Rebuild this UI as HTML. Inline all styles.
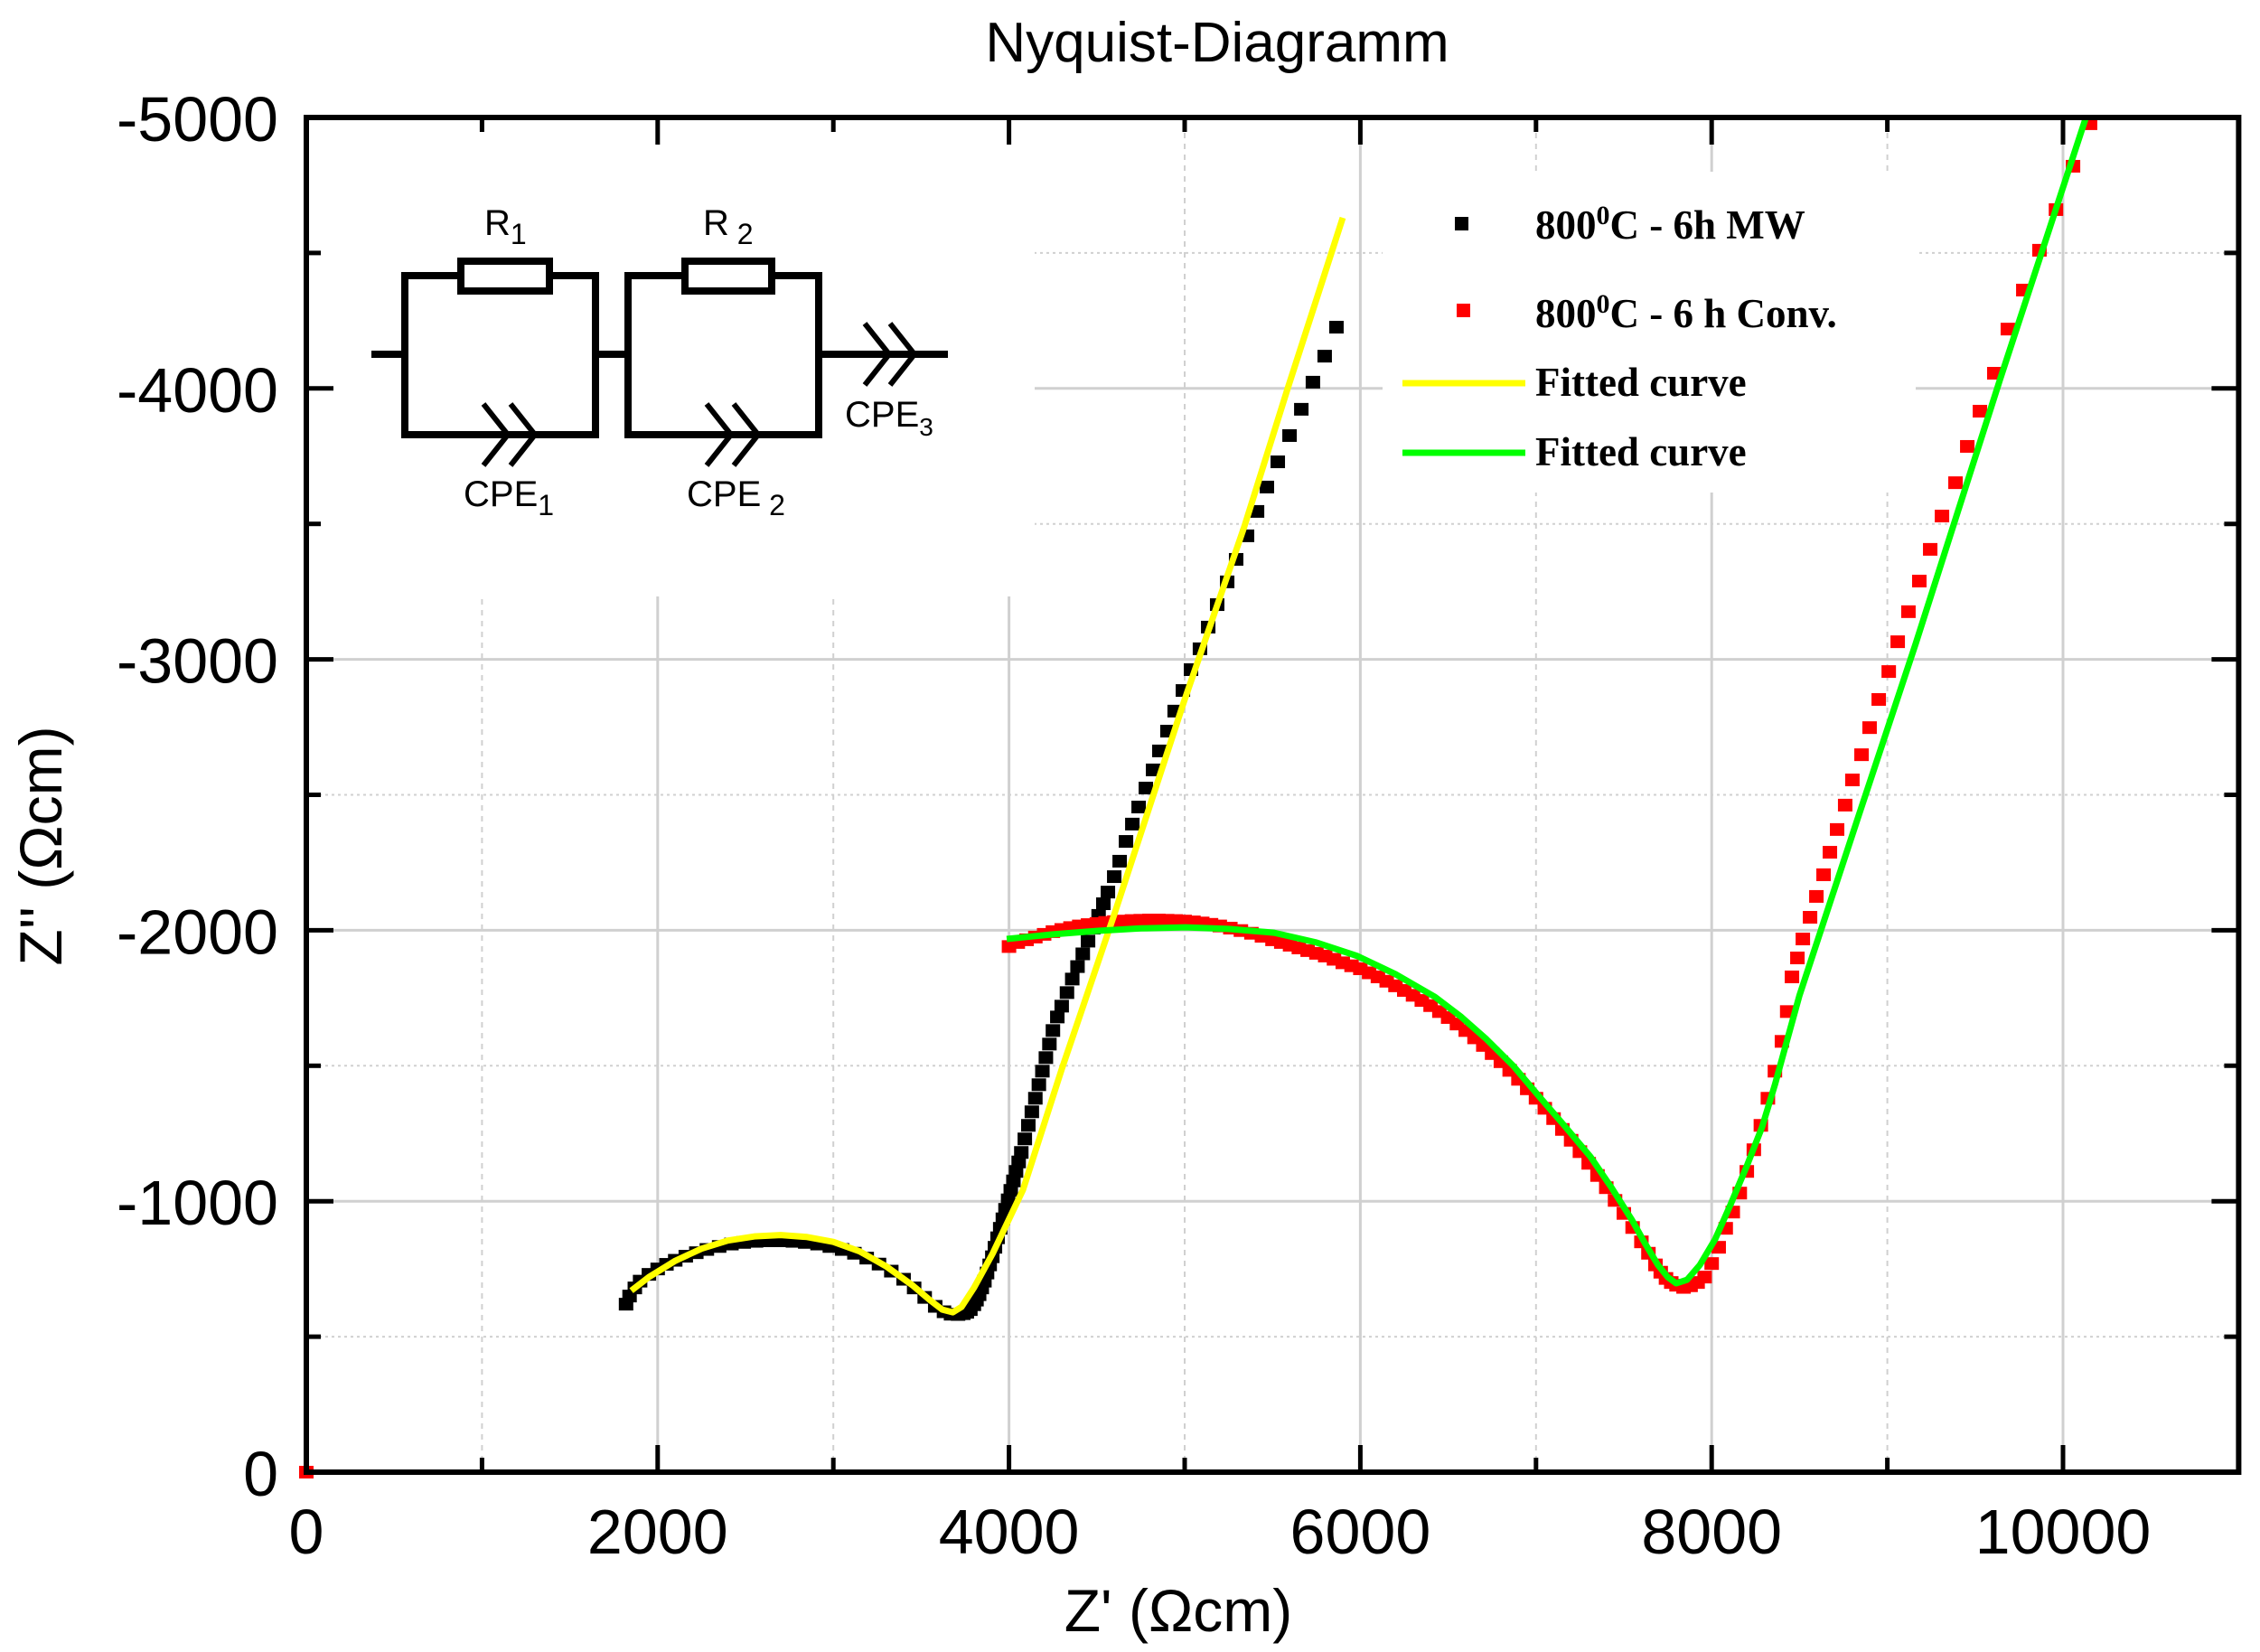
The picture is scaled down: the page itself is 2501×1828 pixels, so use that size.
<!DOCTYPE html>
<html><head><meta charset="utf-8"><style>
html,body{margin:0;padding:0;background:#fff;}
svg{display:block;}
text{font-family:"Liberation Sans",Arial,sans-serif;}
.lg{font-family:"Liberation Serif",serif;font-weight:bold;font-size:45px;}
</style></head><body>
<svg id="chart" width="2501" height="1828" viewBox="0 0 2501 1828" xmlns="http://www.w3.org/2000/svg">
<g id="grid"></g>
<rect x="350" y="140" width="795" height="520" fill="#fff"/>
<rect x="1530" y="190" width="590" height="355" fill="#fff"/>
<g id="series"></g>
<g id="axes"></g>
<text x="1347" y="68" font-size="62" text-anchor="middle">Nyquist-Diagramm</text>
<text x="1304" y="1805" font-size="66" text-anchor="middle">Z' (Ωcm)</text>
<text transform="translate(68,936) rotate(-90)" font-size="66" text-anchor="middle">Z'' (Ωcm)</text>
<g stroke="#000" stroke-width="8" fill="none">
<line x1="411" y1="392" x2="448" y2="392"/>
<polyline points="510,305 448,305 448,481 659,481 659,305 608,305"/>
<rect x="510" y="289" width="98" height="33" fill="#fff"/>
<line x1="659" y1="392" x2="695" y2="392"/>
<polyline points="758,305 695,305 695,481 906,481 906,305 854,305"/>
<rect x="758" y="289" width="96" height="33" fill="#fff"/>
<line x1="906" y1="392" x2="1049" y2="392"/>
<polyline points="535,447 562,481 535,515" stroke-width="6"/>
<polyline points="565,447 592,481 565,515" stroke-width="6"/>
<polyline points="782,447 809,481 782,515" stroke-width="6"/>
<polyline points="812,447 839,481 812,515" stroke-width="6"/>
<polyline points="957,358 984,392 957,426" stroke-width="6"/>
<polyline points="985,358 1012,392 985,426" stroke-width="6"/>
</g>
<g font-size="40">
<text x="536" y="260">R<tspan font-size="32" dy="10">1</tspan></text>
<text x="778" y="260">R<tspan font-size="32" dy="10"> 2</tspan></text>
<text x="513" y="560">CPE<tspan font-size="32" dy="10">1</tspan></text>
<text x="760" y="560">CPE<tspan font-size="32" dy="10"> 2</tspan></text>
<text x="935" y="472">CPE<tspan font-size="28" dy="10">3</tspan></text>
</g>
<g>
<rect x="1610" y="240" width="15" height="15" fill="#000"/>
<text class="lg" x="1699" y="264">800<tspan font-size="30" dy="-16">0</tspan><tspan dy="16">C - 6h MW</tspan></text>
<rect x="1612" y="336" width="15" height="15" fill="#f00"/>
<text class="lg" x="1699" y="362">800<tspan font-size="30" dy="-16">0</tspan><tspan dy="16">C - 6 h Conv.</tspan></text>
<line x1="1552" y1="424" x2="1688" y2="424" stroke="#ff0" stroke-width="7"/>
<text class="lg" x="1699" y="438">Fitted curve</text>
<line x1="1552" y1="501" x2="1688" y2="501" stroke="#0f0" stroke-width="7"/>
<text class="lg" x="1699" y="515">Fitted curve</text>
</g>
</svg>
<script>
const xTicks=[0,2000,4000,6000,8000,10000];
const yTicks=[0,-1000,-2000,-3000,-4000,-5000];
const mwX=[1820,1840,1870,1900,1950,2000,2050,2100,2160,2220,2280,2350,2420,2490,2560,2630,2700,2770,2840,2910,2980,3050,3120,3190,3260,3330,3400,3460,3520,3580,3630,3670,3710,3740,3760,3780,3800,3815,3830,3845,3860,3875,3890,3905,3920,3935,3950,3965,3980,3995,4010,4025,4040,4055,4070,4090,4110,4130,4150,4170,4190,4210,4230,4250,4275,4300,4330,4360,4390,4420,4450,4480,4510,4537,4563,4599,4630,4666,4702,4738,4779,4820,4856,4902,4943,4990,5036,5087,5134,5185,5242,5293,5355,5412,5468,5530,5597,5664,5730,5797,5864];
const mwY=[-620,-650,-680,-705,-730,-750,-767,-782,-797,-810,-822,-833,-842,-848,-852,-854,-854,-852,-848,-842,-833,-822,-808,-790,-768,-742,-712,-680,-645,-612,-592,-583,-582,-585,-590,-600,-618,-635,-655,-680,-705,-735,-765,-795,-830,-865,-900,-935,-970,-1005,-1040,-1075,-1110,-1145,-1180,-1230,-1280,-1330,-1380,-1430,-1480,-1530,-1580,-1630,-1680,-1720,-1770,-1820,-1866,-1913,-1960,-2008,-2055,-2098,-2141,-2198,-2255,-2328,-2392,-2455,-2525,-2592,-2662,-2735,-2809,-2885,-2962,-3039,-3119,-3202,-3286,-3369,-3456,-3546,-3636,-3729,-3826,-3923,-4023,-4119,-4226];
const convX=[0,4000,4050,4100,4150,4200,4250,4300,4350,4400,4450,4500,4550,4600,4650,4700,4750,4800,4850,4900,4950,5000,5050,5100,5150,5200,5260,5320,5380,5440,5500,5550,5600,5650,5700,5750,5800,5850,5900,5950,6000,6050,6100,6150,6200,6250,6300,6350,6400,6450,6500,6550,6600,6650,6700,6750,6800,6850,6900,6950,7000,7050,7100,7150,7200,7250,7300,7350,7400,7450,7500,7550,7600,7640,7680,7710,7740,7770,7800,7840,7880,7920,7960,8000,8040,8080,8120,8160,8200,8240,8280,8320,8360,8400,8430,8457,8488,8519,8560,8596,8637,8673,8714,8760,8801,8853,8899,8951,9008,9059,9120,9182,9244,9311,9388,9455,9527,9609,9686,9774,9866,9960,10057,10154];
const convY=[0,-1940,-1955,-1965,-1975,-1985,-1995,-2003,-2010,-2016,-2021,-2025,-2029,-2032,-2034,-2036,-2037,-2038,-2038,-2037,-2036,-2034,-2031,-2027,-2022,-2016,-2008,-1999,-1989,-1978,-1965,-1955,-1945,-1935,-1925,-1915,-1905,-1893,-1880,-1869,-1858,-1843,-1828,-1812,-1795,-1778,-1760,-1741,-1722,-1700,-1678,-1654,-1630,-1603,-1575,-1545,-1515,-1483,-1450,-1415,-1380,-1343,-1305,-1265,-1225,-1183,-1140,-1095,-1050,-1003,-955,-903,-850,-808,-765,-738,-715,-700,-690,-682,-688,-700,-720,-770,-830,-900,-960,-1030,-1110,-1190,-1280,-1380,-1480,-1590,-1700,-1828,-1898,-1968,-2048,-2125,-2205,-2288,-2372,-2462,-2555,-2648,-2748,-2852,-2955,-3065,-3176,-3289,-3406,-3529,-3652,-3786,-3916,-4056,-4219,-4363,-4510,-4660,-4820,-4977];
const fitMwX=[1850,1950,2100,2250,2400,2550,2700,2850,3000,3150,3300,3450,3550,3620,3680,3730,3800,3907,4079,4300,4600,4995,5339,5586,5900];
const fitMwY=[-670,-720,-780,-825,-855,-870,-875,-868,-850,-815,-760,-690,-635,-600,-590,-610,-680,-807,-1041,-1487,-2060,-2842,-3489,-3999,-4630];
const fitConvX=[3987,4250,4506,4750,5005,5250,5509,5750,5983,6200,6425,6575,6718,6870,7016,7160,7310,7430,7546,7620,7695,7750,7798,7860,7932,8020,8107,8200,8287,8360,8431,8500,8830,9162,9640,10129];
const fitConvY=[-1968,-1985,-1998,-2007,-2011,-2005,-1991,-1955,-1905,-1838,-1754,-1680,-1598,-1500,-1388,-1280,-1164,-1050,-931,-845,-764,-720,-697,-710,-764,-860,-987,-1130,-1274,-1430,-1598,-1760,-2410,-3059,-4030,-4997];
const X0=339, XS=(2283-339)/10000, Y0=1629, YS=(1629-130)/5000;
function sx(v){return X0+v*XS;}
function sy(v){return Y0+v*YS;}
const NS='http://www.w3.org/2000/svg';
function mk(tag,attrs,parent){const e=document.createElementNS(NS,tag);for(const k in attrs)e.setAttribute(k,attrs[k]);parent.appendChild(e);return e;}
const grid=document.getElementById('grid'), axes=document.getElementById('axes'), series=document.getElementById('series');
for(let v=1000;v<=11000;v+=1000){
  const major=v%2000===0;
  const g=mk('line',{x1:sx(v),x2:sx(v),y1:sy(0),y2:sy(-5000),stroke:'#d0d0d0','stroke-width':major?3:2,'stroke-dasharray':major?'none':'6,6'},grid);
  
  
}
for(let v=-500;v>=-4500;v-=500){
  const major=v%1000===0;
  const g=mk('line',{x1:sx(0),x2:sx(11000),y1:sy(v),y2:sy(v),stroke:'#d0d0d0','stroke-width':major?3:2,'stroke-dasharray':major?'none':'3,4'},grid);
  
  
}
function poly(xs,ys,color,name){
  const p=mk('polyline',{points:xs.map((x,i)=>sx(x)+','+sy(ys[i])).join(' '),fill:'none',stroke:color,'stroke-width':7,'stroke-linejoin':'round'},series);
  
  
}
function pts(xs,ys,color,name){
  xs.forEach((x,i)=>{
    const r=mk('rect',{x:sx(x)-8,y:sy(ys[i])-7,width:16,height:14,fill:color},series);
    
    
  });
}
pts(mwX,mwY,'#000','point-mw');
pts(convX,convY,'#f00','point-conv');
poly(fitMwX,fitMwY,'#ff0','fit-curve-mw');
poly(fitConvX,fitConvY,'#0f0','fit-curve-conv');
const frame=mk('rect',{x:sx(0),y:sy(-5000),width:sx(11000)-sx(0),height:sy(0)-sy(-5000),fill:'none',stroke:'#000','stroke-width':6},axes);


for(let v=1000;v<11000;v+=1000){
  const L=v%2000===0?30:16;
  const t1=mk('line',{x1:sx(v),x2:sx(v),y1:sy(0),y2:sy(0)-L,stroke:'#000','stroke-width':5},axes);
  
  
  const t2=mk('line',{x1:sx(v),x2:sx(v),y1:sy(-5000),y2:sy(-5000)+L,stroke:'#000','stroke-width':5},axes);
  
  
}
for(let v=-500;v>-5000;v-=500){
  const L=v%1000===0?30:16;
  const t1=mk('line',{x1:sx(0),x2:sx(0)+L,y1:sy(v),y2:sy(v),stroke:'#000','stroke-width':5},axes);
  
  
  const t2=mk('line',{x1:sx(11000),x2:sx(11000)-L,y1:sy(v),y2:sy(v),stroke:'#000','stroke-width':5},axes);
  
  
}
xTicks.forEach(v=>{
  const t=mk('text',{x:sx(v),y:1719,'font-size':70,'text-anchor':'middle'},axes);
  t.textContent=String(v);
  
  
});
yTicks.forEach(v=>{
  const t=mk('text',{x:308,y:sy(v)+26,'font-size':70,'text-anchor':'end'},axes);
  t.textContent=String(v);
  
  
});
</script>
</body></html>
